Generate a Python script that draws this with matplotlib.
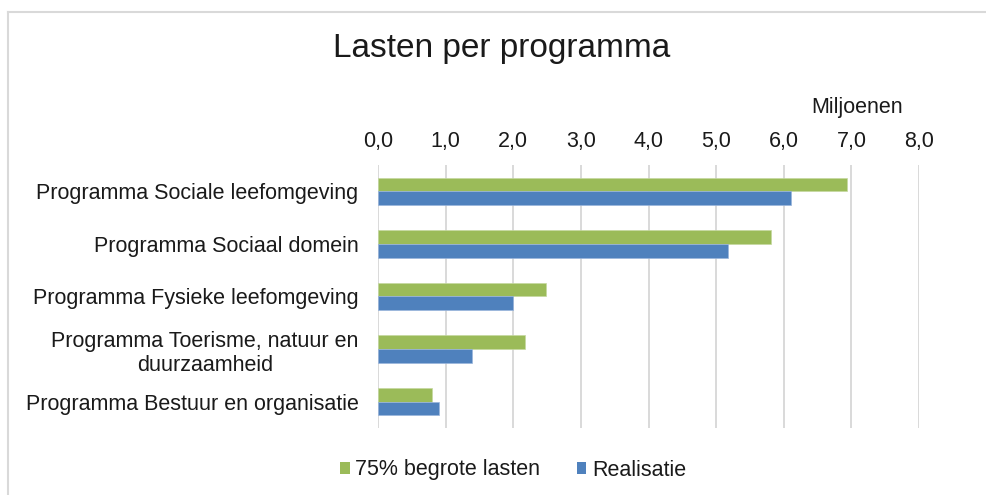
import matplotlib
matplotlib.use("Agg")
import matplotlib.pyplot as plt
from matplotlib.patches import Patch
from matplotlib.lines import Line2D
import numpy as np

plt.rcParams['font.family'] = ['Liberation Sans', 'DejaVu Sans']

categories = [
    "Programma Sociale leefomgeving",
    "Programma Sociaal domein",
    "Programma Fysieke leefomgeving",
    "Programma Toerisme, natuur en\nduurzaamheid",
    "Programma Bestuur en organisatie",
]
begroot_75 = [6.93, 5.81, 2.48, 2.18, 0.80]
realisatie = [6.11, 5.17, 1.99, 1.39, 0.90]
xticks = [0, 1, 2, 3, 4, 5, 6, 7, 8]
xticklabels = ["0,0", "1,0", "2,0", "3,0", "4,0", "5,0", "6,0", "7,0", "8,0"]
series_names = ["75% begrote lasten", "Realisatie"]

GREEN = "#9BBB59"
BLUE = "#4F81BD"
TXT = "#1a1a1a"

W, H = 987, 495
fig = plt.figure(figsize=(W / 100, H / 100), dpi=100)

# outer light border (top and left visible)
fig.add_artist(Line2D([8 / W, 1.0], [1 - 12 / H, 1 - 12 / H], color="#d9d9d9", lw=1.5, transform=fig.transFigure))
fig.add_artist(Line2D([8 / W, 8 / W], [0, 1 - 12 / H], color="#d9d9d9", lw=1.5, transform=fig.transFigure))

ax = fig.add_axes([378 / W, (H - 428) / H, (919 - 378) / W, (428 - 165) / H])

y = np.arange(len(categories))
h = 0.26
ax.barh(y - h / 2, begroot_75, height=h, color=GREEN, edgecolor="#c5d9a0", linewidth=0.5, zorder=3)
ax.barh(y + h / 2, realisatie, height=h, color=BLUE, edgecolor="#9ab5dc", linewidth=0.5, zorder=3)

ax.set_xlim(0, 8)
ax.set_ylim(len(categories) - 0.5, -0.5)
ax.set_yticks(y)
ax.set_yticklabels(categories, fontsize=15.5, color=TXT)
for lbl in ax.get_yticklabels():
    lbl.set_multialignment("center")
ax.xaxis.tick_top()
ax.set_xticks(xticks)
ax.set_xticklabels(xticklabels, fontsize=15.5, color=TXT)
ax.tick_params(axis="both", length=0)
ax.tick_params(axis="y", pad=14)
ax.tick_params(axis="x", pad=9)
ax.grid(axis="x", color="#d9d9d9", lw=1.4, zorder=0)
ax.set_axisbelow(True)
for s in ax.spines.values():
    s.set_visible(False)

fig.text(857 / W, 1 - 108 / H, "Miljoenen", fontsize=15.5, color=TXT, ha="center", va="center")
fig.text(502 / W, 1 - 48 / H, "Lasten per programma", fontsize=24, color=TXT, ha="center", va="center")

handles = [Patch(facecolor=GREEN, edgecolor="none"), Patch(facecolor=BLUE, edgecolor="none")]
fig.legend(handles, series_names, loc="center", bbox_to_anchor=(513 / W, 1 - 470 / H), ncol=2,
           frameon=False, fontsize=15.5, handlelength=0.45, handleheight=0.45,
           handletextpad=0.25, columnspacing=1.7, labelcolor=TXT)

fig.savefig("out.png", dpi=100, facecolor="white")
